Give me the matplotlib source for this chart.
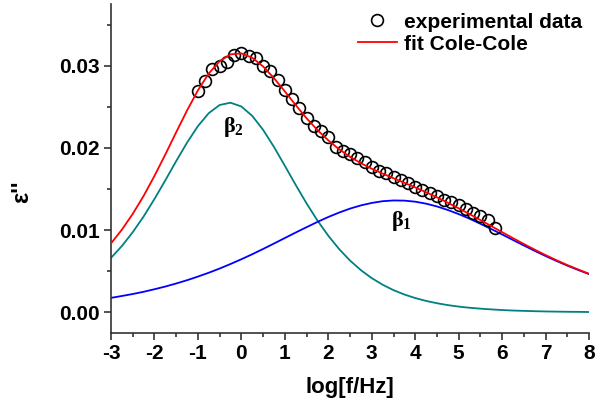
import matplotlib
matplotlib.use("Agg")
import matplotlib.pyplot as plt
from matplotlib.ticker import MultipleLocator, FormatStrFormatter

plt.rcParams['font.family'] = ['Liberation Sans', 'DejaVu Sans']
plt.rcParams['font.weight'] = 'bold'
plt.rcParams['axes.unicode_minus'] = False
plt.rcParams['mathtext.fontset'] = 'custom'
plt.rcParams['mathtext.bf'] = 'Liberation Serif:bold'
plt.rcParams['mathtext.rm'] = 'Liberation Serif'

# fit curves sampled every 0.25 decade from -3 to 8
log_f = [-3 + 0.25 * i for i in range(45)]
beta2 = [0.00662, 0.00806, 0.00974, 0.01165, 0.01378, 0.01605, 0.01839, 0.02064, 0.02265,
         0.02423, 0.02522, 0.02550, 0.02504, 0.02390, 0.02220, 0.02012, 0.01783, 0.01550,
         0.01325, 0.01117, 0.00932, 0.00769, 0.00630, 0.00513, 0.00416, 0.00336, 0.00270,
         0.00217, 0.00174, 0.00139, 0.00111, 0.00088, 0.00070, 0.00056, 0.00045, 0.00036,
         0.00028, 0.00022, 0.00018, 0.00014, 0.00011, 0.00009, 0.00007, 0.00006, 0.00004]
beta1 = [0.00176, 0.00199, 0.00223, 0.00250, 0.00281, 0.00314, 0.00351, 0.00391, 0.00435,
         0.00482, 0.00533, 0.00588, 0.00646, 0.00707, 0.00771, 0.00837, 0.00904, 0.00971,
         0.01036, 0.01100, 0.01160, 0.01214, 0.01262, 0.01301, 0.01331, 0.01352, 0.01361,
         0.01359, 0.01346, 0.01322, 0.01288, 0.01245, 0.01195, 0.01139, 0.01077, 0.01013,
         0.00947, 0.00880, 0.00813, 0.00748, 0.00685, 0.00625, 0.00568, 0.00515, 0.00465]
fit_total = [a + b for a, b in zip(beta2, beta1)]

# experimental data, 6 points per decade from -1 to 5.83
exp_x = [-1 + k / 6 for k in range(42)]
exp_y = [0.0269, 0.0282, 0.0296, 0.0300, 0.0304, 0.0313, 0.0316, 0.0312, 0.0309, 0.0300,
         0.0294, 0.0283, 0.0271, 0.0260, 0.0248, 0.0236, 0.0227, 0.0220, 0.0213, 0.0201,
         0.0196, 0.0193, 0.0188, 0.0183, 0.0177, 0.0172, 0.0169, 0.0165, 0.0161, 0.0157,
         0.0153, 0.0149, 0.0145, 0.0141, 0.0137, 0.0134, 0.0130, 0.0126, 0.0121, 0.0117,
         0.0112, 0.0103]

fig = plt.figure(figsize=(6.03, 4.05), dpi=100)
ax = fig.add_axes([0.184, 0.178, 0.793, 0.812])

ax.plot(log_f, beta2, color='#008080', lw=1.3, zorder=2)
ax.plot(log_f, beta1, color='#0000ff', lw=1.3, zorder=2)
ax.plot(exp_x, exp_y, 'o', ms=8.5, mfc='none', mec='black', mew=1.2,
        label='experimental data', zorder=3)
ax.plot(log_f, fit_total, color='#ff0000', lw=1.3, label='fit Cole-Cole', zorder=4)

ax.text(-0.18, 0.0226, r'$\mathbf{\beta}_\mathbf{2}$', fontsize=16, ha='center', va='center')
ax.text(3.68, 0.0111, r'$\mathbf{\beta}_\mathbf{1}$', fontsize=16, ha='center', va='center')

ax.set_xlim(-3, 8)
ax.set_ylim(-0.0025, 0.0375)
ax.xaxis.set_major_locator(MultipleLocator(1))
ax.xaxis.set_minor_locator(MultipleLocator(0.5))
ax.yaxis.set_major_locator(MultipleLocator(0.01))
ax.yaxis.set_minor_locator(MultipleLocator(0.005))
ax.yaxis.set_major_formatter(FormatStrFormatter('%.2f'))

for s in ['top', 'right']:
    ax.spines[s].set_visible(False)
for s in ['left', 'bottom']:
    ax.spines[s].set_linewidth(1.2)
    ax.spines[s].set_color('#333333')
ax.tick_params(which='major', direction='out', length=5, width=1.2, labelsize=15, pad=3,
               color='#333333')
ax.tick_params(which='minor', direction='out', length=3, width=1.2, color='#333333')

ax.set_xlabel('log[f/Hz]', fontsize=16, fontweight='bold', labelpad=10)
ax.set_ylabel("ε''", fontsize=17, fontweight='bold')
ax.yaxis.set_label_coords(-0.163, 0.43)

handles, labels = ax.get_legend_handles_labels()
leg = ax.legend(handles, labels, loc='upper right',
                bbox_to_anchor=(595 / 603, 1.0), bbox_transform=fig.transFigure,
                frameon=False, fontsize=15, handlelength=1.9, handletextpad=0.35,
                labelspacing=0.15, borderaxespad=0.3, borderpad=0.3)

fig.savefig('out.png', dpi=100)
